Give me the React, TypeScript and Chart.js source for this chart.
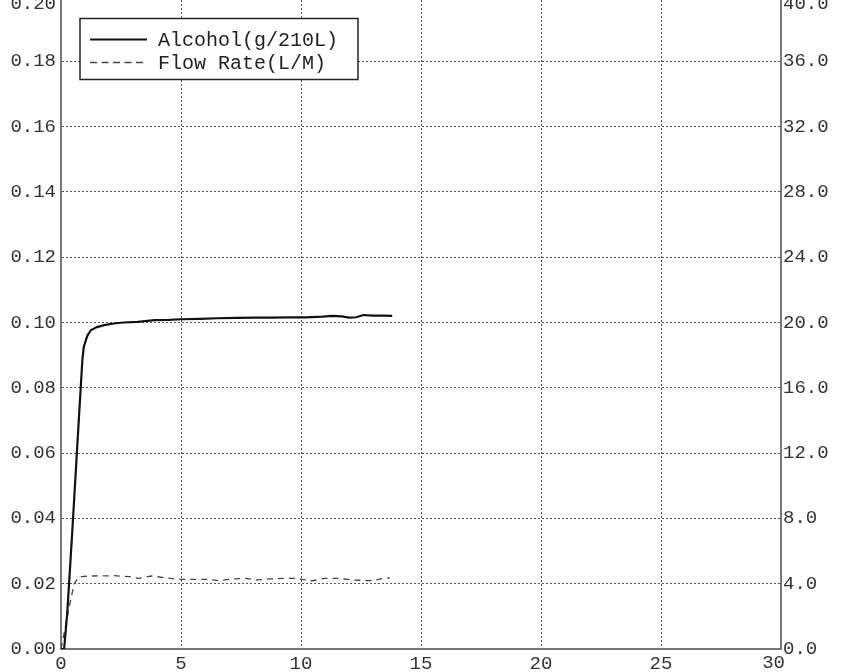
import React, { useEffect, useRef } from "react";
import { Chart, registerables } from "chart.js";

Chart.register(...registerables);

const alcoholX = [0, 0.13, 0.26, 0.47, 0.7, 0.89, 0.95, 1.1, 1.25, 1.5, 1.8, 2.2, 2.6, 3.2, 3.9, 4.5, 5.0, 5.8, 6.5, 7.3, 8.1, 8.8, 9.5, 10.2, 10.9, 11.3, 11.7, 12.0, 12.3, 12.6, 13.0, 13.4, 13.8];
const alcoholY = [0, 0, 0.011, 0.036, 0.065, 0.0885, 0.0926, 0.096, 0.0977, 0.0986, 0.0992, 0.0997, 0.1, 0.1002, 0.1007, 0.1008, 0.101, 0.1011, 0.1013, 0.1014, 0.1015, 0.1015, 0.1016, 0.1016, 0.1018, 0.102, 0.1019, 0.1015, 0.1016, 0.1023, 0.1021, 0.1021, 0.102];

const flowX = [0, 0.2, 0.4, 0.55, 0.75, 1.24, 2.22, 2.85, 3.23, 3.78, 4.31, 4.87, 5.5, 6.06, 6.62, 6.97, 7.67, 8.16, 8.71, 9.34, 9.69, 10.46, 11.0, 11.5, 12.14, 12.97, 13.46, 13.7];
const flowY = [0, 1.5, 3.0, 4.0, 4.43, 4.47, 4.49, 4.43, 4.33, 4.47, 4.37, 4.27, 4.27, 4.27, 4.18, 4.27, 4.33, 4.23, 4.29, 4.33, 4.33, 4.18, 4.33, 4.33, 4.23, 4.18, 4.33, 4.35];

const seriesLabels = ["Alcohol(g/210L)", "Flow Rate(L/M)"];

const FONT = "'Liberation Mono', 'DejaVu Sans Mono', monospace";
const TICK_COLOR = "#333";
const VISIBLE_TOP = 30; // canvas is shifted up by this many pixels

const legendPlugin = {
  id: "boxLegend",
  afterDraw(chart: any) {
    const { ctx, chartArea, scales } = chart;
    ctx.save();
    // clamped end labels (top of both value axes, right end of x axis)
    ctx.font = `19px ${FONT}`;
    ctx.fillStyle = TICK_COLOR;
    ctx.textBaseline = "middle";
    const yTop = Math.max(scales.y.top, VISIBLE_TOP + 4);
    ctx.textAlign = "right";
    ctx.fillText(Number(scales.y.max).toFixed(2), chartArea.left - 5, yTop);
    ctx.textAlign = "left";
    ctx.fillText(Number(scales.y1.max).toFixed(1), chartArea.right + 2, yTop);
    ctx.textBaseline = "top";
    ctx.textAlign = "right";
    ctx.fillText(String(scales.x.max), chartArea.right + 4, chartArea.bottom + 4);

    const x0 = chartArea.left + 19;
    const y0 = chartArea.top + 22.5;
    const w = 278;
    const h = 61;
    ctx.fillStyle = "#fff";
    ctx.fillRect(x0, y0, w, h);
    ctx.strokeStyle = "#222";
    ctx.lineWidth = 1.5;
    ctx.setLineDash([]);
    ctx.strokeRect(x0, y0, w, h);
    const rows = [y0 + 21, y0 + 44];
    chart.data.datasets.forEach((ds: any, i: number) => {
      const y = rows[i];
      ctx.beginPath();
      ctx.strokeStyle = ds.borderColor;
      ctx.lineWidth = ds.borderWidth;
      ctx.setLineDash(ds.borderDash ? [7, 4.5] : []);
      ctx.moveTo(x0 + 10, y);
      ctx.lineTo(x0 + 67, y);
      ctx.stroke();
      ctx.setLineDash([]);
      ctx.fillStyle = "#222";
      ctx.font = `20px ${FONT}`;
      ctx.textBaseline = "middle";
      ctx.textAlign = "left";
      ctx.fillText(ds.label, x0 + 78, y + 1);
    });
    ctx.restore();
  },
};

export default function App() {
  const ref = useRef<HTMLCanvasElement | null>(null);
  useEffect(() => {
    if (!ref.current) return;
    const chart = new Chart(ref.current, {
      type: "line",
      data: {
        datasets: [
          {
            label: seriesLabels[0],
            data: alcoholX.map((x, i) => ({ x, y: alcoholY[i] })),
            borderColor: "#111",
            borderWidth: 2.2,
            pointRadius: 0,
            tension: 0,
            yAxisID: "y",
          },
          {
            label: seriesLabels[1],
            data: flowX.map((x, i) => ({ x, y: flowY[i] })),
            borderColor: "#444",
            borderWidth: 1.3,
            borderDash: [6, 5],
            pointRadius: 0,
            tension: 0,
            yAxisID: "y1",
          },
        ],
      },
      options: {
        animation: false,
        responsive: false,
        maintainAspectRatio: false,
        layout: { padding: { top: 26, left: 0, right: 0, bottom: 0 } },
        plugins: { legend: { display: false }, tooltip: { enabled: false } },
        scales: {
          x: {
            type: "linear",
            min: 0,
            max: 30,
            ticks: {
              stepSize: 5,
              padding: 4,
              color: TICK_COLOR,
              font: { family: FONT, size: 19 },
              callback: (v: any) => (v === 30 ? "" : String(v)),
            },
            grid: { color: "#555", lineWidth: 1, drawTicks: false },
            border: { display: true, color: "#777", width: 2, dash: [2, 2] },
            afterFit: (s: any) => { s.height = 23; },
          },
          y: {
            type: "linear",
            position: "left",
            min: 0,
            max: 0.2,
            ticks: {
              stepSize: 0.02,
              padding: 5,
              color: TICK_COLOR,
              font: { family: FONT, size: 19 },
              callback: (v: any) => (Math.abs(v - 0.2) < 1e-9 ? "" : Number(v).toFixed(2)),
            },
            grid: { color: "#555", lineWidth: 1, drawTicks: false },
            border: { display: true, color: "#777", width: 2, dash: [2, 2] },
            afterFit: (s: any) => { s.width = 61; },
          },
          y1: {
            type: "linear",
            position: "right",
            min: 0,
            max: 40,
            ticks: {
              stepSize: 4,
              padding: 2,
              color: TICK_COLOR,
              font: { family: FONT, size: 19 },
              callback: (v: any) => (v === 40 ? "" : Number(v).toFixed(1)),
            },
            grid: { display: false, drawTicks: false },
            border: { display: true, color: "#777", width: 2 },
            afterFit: (s: any) => { s.width = 68; },
          },
        },
      },
      plugins: [legendPlugin],
    });
    return () => chart.destroy();
  }, []);
  return (
    <div style={{ position: "fixed", left: 0, top: -VISIBLE_TOP, width: 849, height: 702, background: "#fff" }}>
      <canvas ref={ref} width={849} height={702} style={{ width: 849, height: 702, display: "block" }} />
    </div>
  );
}
